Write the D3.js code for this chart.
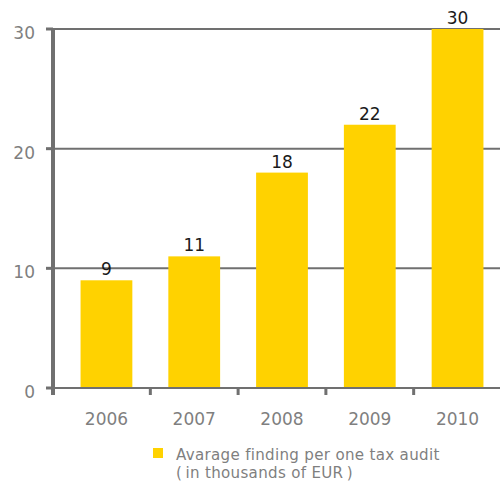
<!DOCTYPE html>
<html>
<head>
<meta charset="utf-8">
<script src="https://cdn.jsdelivr.net/npm/d3@7"></script>
<style>
  html, body { margin: 0; padding: 0; background: #fff; }
  svg { display: block; font-family: "DejaVu Sans", Verdana, sans-serif; }
</style>
</head>
<body>
<div id="chart"></div>
<script>
// data
const years = ['2006', '2007', '2008', '2009', '2010'];
const findings = [9, 11, 18, 22, 30];
const yTicks = [0, 10, 20, 30];
const legendLines = ['Avarage finding per one tax audit', '(\u2009in thousands of EUR\u2009)'];

const width = 500, height = 482;
const axisColor = '#707070';
const textGray = '#7f7f7f';
const barColor = '#ffd200';

const svg = d3.select('#chart').append('svg')
  .attr('width', width)
  .attr('height', height);

// scales
const x = d3.scaleBand()
  .domain(years)
  .range([63, 501])
  .paddingInner(0.41)
  .paddingOuter(0.2);

const y = d3.scaleLinear()
  .domain([0, 30])
  .range([388, 29]);

const axisX = 53;

// grid lines
svg.append('g')
  .selectAll('line')
  .data(yTicks.filter(d => d > 0))
  .enter()
  .append('line')
  .attr('x1', axisX)
  .attr('x2', width)
  .attr('y1', d => y(d))
  .attr('y2', d => y(d))
  .attr('stroke', axisColor)
  .attr('stroke-width', 2);

// bars
svg.append('g')
  .selectAll('rect')
  .data(findings)
  .enter()
  .append('rect')
  .attr('x', (d, i) => x(years[i]))
  .attr('y', d => y(d))
  .attr('width', x.bandwidth())
  .attr('height', d => y(0) - y(d))
  .attr('fill', barColor);

// value labels
svg.append('g')
  .selectAll('text')
  .data(findings)
  .enter()
  .append('text')
  .attr('x', (d, i) => x(years[i]) + x.bandwidth() / 2)
  .attr('y', d => y(d) - 5)
  .attr('text-anchor', 'middle')
  .attr('font-size', 17)
  .attr('fill', '#1a1a1a')
  .text(d => d);

// x axis line
svg.append('line')
  .attr('x1', axisX)
  .attr('x2', width)
  .attr('y1', y(0))
  .attr('y2', y(0))
  .attr('stroke', axisColor)
  .attr('stroke-width', 2);

// x ticks between categories
const step = x.step();
svg.append('g')
  .selectAll('line')
  .data(years.slice(1))
  .enter()
  .append('line')
  .attr('x1', d => x(d) - (step - x.bandwidth()) / 2)
  .attr('x2', d => x(d) - (step - x.bandwidth()) / 2)
  .attr('y1', y(0))
  .attr('y2', y(0) + 7)
  .attr('stroke', axisColor)
  .attr('stroke-width', 3);

// x labels
svg.append('g')
  .selectAll('text')
  .data(years)
  .enter()
  .append('text')
  .attr('x', d => x(d) + x.bandwidth() / 2)
  .attr('y', 425)
  .attr('text-anchor', 'middle')
  .attr('font-size', 17)
  .attr('fill', textGray)
  .text(d => d);

// y axis
svg.append('line')
  .attr('x1', axisX)
  .attr('x2', axisX)
  .attr('y1', y(30) - 1)
  .attr('y2', y(0) + 7)
  .attr('stroke', axisColor)
  .attr('stroke-width', 4);

svg.append('g')
  .selectAll('line')
  .data(yTicks)
  .enter()
  .append('line')
  .attr('x1', axisX - 7)
  .attr('x2', axisX)
  .attr('y1', d => y(d))
  .attr('y2', d => y(d))
  .attr('stroke', axisColor)
  .attr('stroke-width', 3);

svg.append('g')
  .selectAll('text')
  .data(yTicks)
  .enter()
  .append('text')
  .attr('x', 35)
  .attr('y', d => y(d) + 10)
  .attr('text-anchor', 'end')
  .attr('font-size', 17)
  .attr('fill', textGray)
  .text(d => d);

// legend
const legend = svg.append('g');
legend.append('rect')
  .attr('x', 153)
  .attr('y', 448)
  .attr('width', 10)
  .attr('height', 10)
  .attr('fill', barColor);

legend.selectAll('text')
  .data(legendLines)
  .enter()
  .append('text')
  .attr('x', 176)
  .attr('y', (d, i) => 460 + i * 18)
  .attr('font-size', 15.1)
  .attr('letter-spacing', 0.3)
  .attr('fill', textGray)
  .text(d => d);
</script>
</body>
</html>
